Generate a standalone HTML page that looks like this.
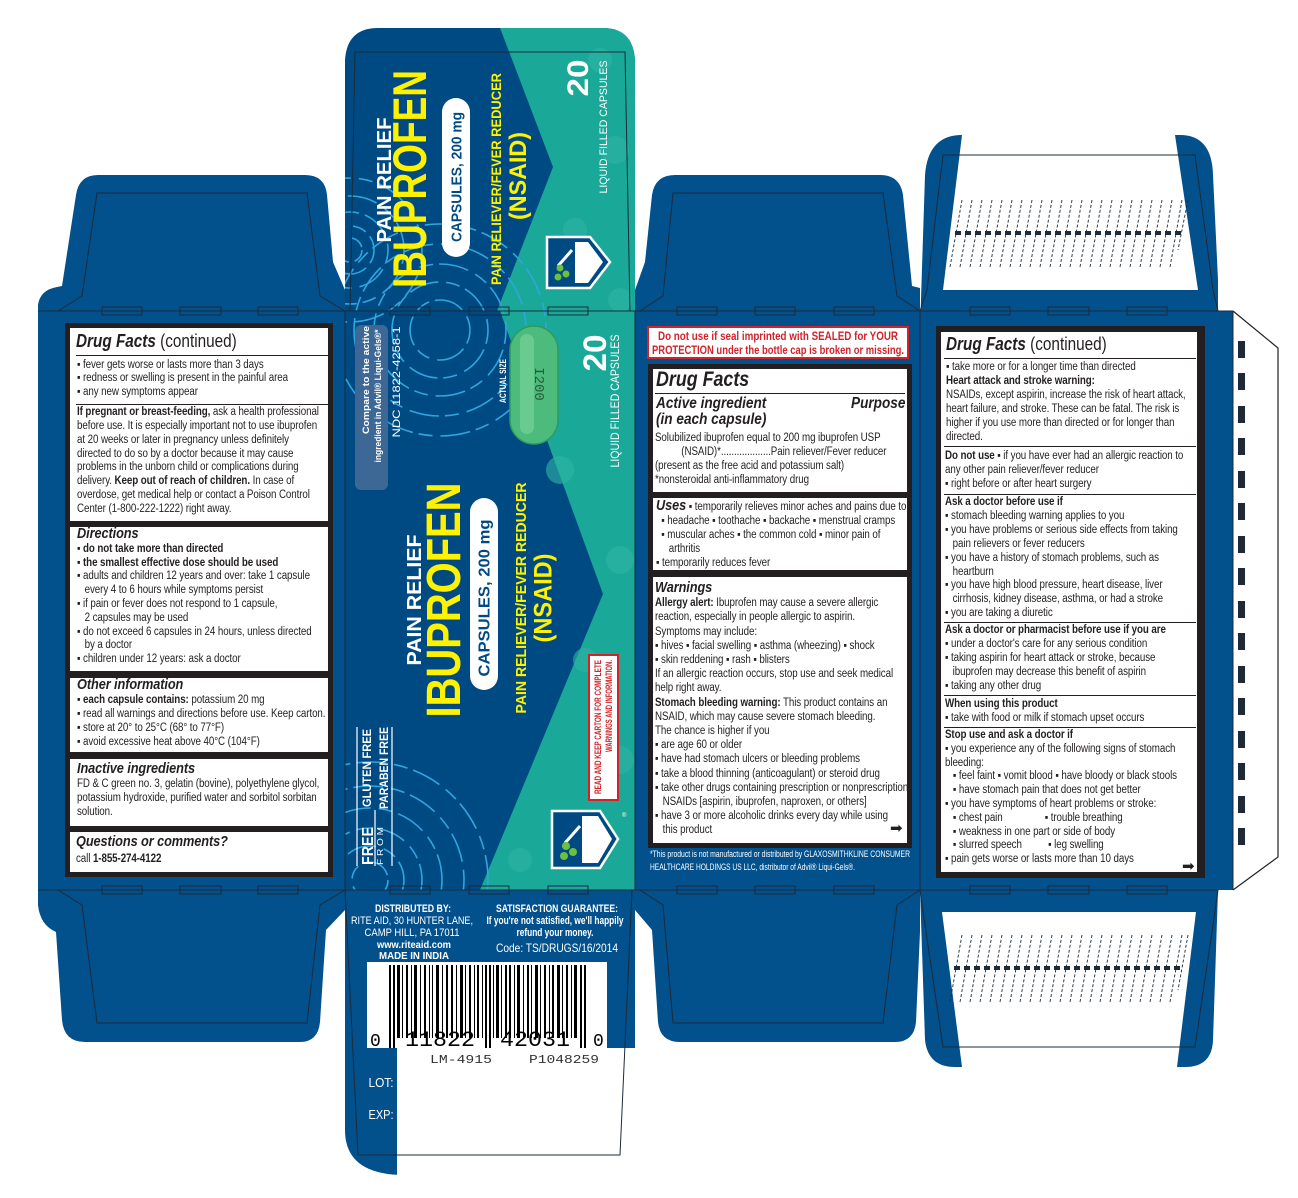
<!DOCTYPE html>
<html><head><meta charset="utf-8"><style>
*{margin:0;padding:0;box-sizing:border-box}
body{width:1298px;height:1198px;background:#fff;position:relative;overflow:hidden;font-family:"Liberation Sans Narrow","Liberation Sans",sans-serif;color:#231f20}
svg{position:absolute;left:0;top:0}
.a{position:absolute;white-space:nowrap;transform:scaleX(0.85);transform-origin:0 0}
.blk{position:absolute;background:#231f20}
.wh{position:absolute;background:#fff}
.t{font-size:11.5px;line-height:13.6px;letter-spacing:-0.1px}
.hr{position:absolute;height:1px;background:#231f20}
.h{font-weight:bold;font-style:italic;font-size:15px}
b{font-weight:bold}
.ind{padding-left:9px}
</style></head><body>
<svg width="1298" height="1198" viewBox="0 0 1298 1198">
<defs>
<clipPath id="cf"><path d="M345,311 L345,60 Q347,28 378,28 L603,28 Q633,28 635,60 L635,890 L345,890 Z"/></clipPath>
</defs>
<g fill="#02508c">
<path d="M38,330 L38,305 Q40,290 57,287 L62,286 L76,195 Q79,175 98,175 L305,175 Q325,175 327,195 L333,262 L345,290 L345,330 Z"/>
<rect x="38" y="311" width="307" height="579"/>
<path d="M38,890 L38,905 Q40,925 56,932 L62,1020 Q64,1042 85,1042 L300,1042 Q318,1042 320,1022 L326,930 L345,910 L345,890 Z"/>
<path d="M635,330 L635,290 L645,262 L652,195 Q655,175 675,175 L880,175 Q900,175 903,195 L912,286 L920,288 L920,330 Z"/>
<rect x="635" y="311" width="285" height="579"/>
<path d="M635,890 L635,910 L652,930 L658,1022 Q660,1042 680,1042 L895,1042 Q914,1042 916,1022 L920,932 L920,890 Z"/>
<path d="M920,330 L925,175 Q928,135 962,135 L1180,135 Q1212,135 1213,175 L1218,280 L1218,330 Z"/>
<rect x="920" y="311" width="313" height="579"/>
<path d="M920,890 L925,1040 Q928,1067 955,1067 L1185,1067 Q1212,1067 1213,1040 L1218,890 Z"/>
<path d="M345,890 L635,890 L635,1048 L632,1048 L632,1175 L405,1175 Q345,1175 345,1130 Z"/>
</g>
<path d="M962,135 L1175,135 L1198,290 L943,290 Z" fill="#fff"/>
<path d="M942,912 L1196,912 L1177,1067 L962,1067 Z" fill="#fff"/>
<path d="M1233,311 L1278,348 L1278,857 L1233,890" fill="#fff" stroke="#231f20" stroke-width="1.2"/>
<g fill="#1e2a38">
<rect x="1238" y="341" width="7" height="17"/><rect x="1238" y="373" width="7" height="17"/><rect x="1238" y="406" width="7" height="17"/><rect x="1238" y="438" width="7" height="17"/><rect x="1238" y="471" width="7" height="17"/><rect x="1238" y="503" width="7" height="17"/><rect x="1238" y="536" width="7" height="17"/><rect x="1238" y="568" width="7" height="17"/><rect x="1238" y="601" width="7" height="17"/><rect x="1238" y="633" width="7" height="17"/><rect x="1238" y="666" width="7" height="17"/><rect x="1238" y="698" width="7" height="17"/><rect x="1238" y="731" width="7" height="17"/><rect x="1238" y="763" width="7" height="17"/><rect x="1238" y="796" width="7" height="17"/><rect x="1238" y="828" width="7" height="17"/>
</g>
<rect x="397" y="1048" width="245" height="127" fill="#fff"/>
<rect x="367" y="962" width="240" height="86" fill="#fff"/>
<g clip-path="url(#cf)">
<rect x="345" y="20" width="290" height="870" fill="#004a84"/>
<path d="M497,20 L640,20 L640,311 L497,311 L553,167 Z" fill="#1aa898"/>
<path d="M500,311 L640,311 L640,890 L480,890 L603,594 Z" fill="#1aa898"/>
<g fill="none" stroke="#2fa6dd" stroke-width="1.6" stroke-dasharray="14 6 30 8">
<circle cx="350" cy="250" r="12"/><circle cx="350" cy="250" r="24"/><circle cx="350" cy="250" r="38"/><circle cx="350" cy="250" r="54"/><circle cx="350" cy="250" r="72"/>
<circle cx="440" cy="330" r="30"/><circle cx="440" cy="330" r="48"/><circle cx="440" cy="330" r="66"/><circle cx="440" cy="330" r="86"/><circle cx="440" cy="330" r="106"/>
<circle cx="370" cy="880" r="18"/><circle cx="370" cy="880" r="34"/><circle cx="370" cy="880" r="52"/><circle cx="370" cy="880" r="72"/><circle cx="370" cy="880" r="94"/><circle cx="370" cy="880" r="118"/>
</g>
<g fill="#2fb5a4" opacity="0.6">
<circle cx="600" cy="60" r="12"/><circle cx="615" cy="150" r="14"/><circle cx="575" cy="230" r="12"/><circle cx="620" cy="300" r="12"/><circle cx="560" cy="470" r="14"/><circle cx="620" cy="560" r="14"/><circle cx="585" cy="660" r="12"/><circle cx="620" cy="760" r="14"/><circle cx="520" cy="860" r="12"/>
</g>
</g>
<g fill="none" stroke="#1d2b3a" stroke-width="1">
<path d="M38,311 L1233,311 M38,890 L1218,890"/>
<path d="M345,311 L345,890 M635,311 L635,890 M920,311 L920,890 M1233,311 L1233,890"/>
<path d="M58,311 L82,296 L97,193 L307,193 L320,296 L345,311"/>
<path d="M640,311 L663,296 L673,193 L883,193 L897,296 L920,311"/>
<path d="M920,311 L927,290 L943,155 L1195,155 L1213,290 L1218,311"/>
<path d="M350,311 L355,52 L625,52 L630,311"/>
<path d="M58,890 L82,905 L97,1023 L307,1023 L320,905 L345,890"/>
<path d="M640,890 L663,905 L673,1023 L883,1023 L897,905 L920,890"/>
<path d="M920,890 L925,925 L943,1047 L1195,1047 L1213,925 L1218,890"/>
<path d="M345,890 L358,1155 L620,1155 L632,890"/>
</g>
<g fill="none" stroke="#1d2b3a" stroke-width="1">
<rect x="102" y="307" width="40" height="8"/><rect x="180" y="307" width="41" height="8"/><rect x="258" y="307" width="40" height="8"/>
<rect x="390" y="307" width="40" height="8"/><rect x="469" y="307" width="40" height="8"/><rect x="548" y="307" width="40" height="8"/>
<rect x="677" y="307" width="40" height="8"/><rect x="755" y="307" width="40" height="8"/><rect x="834" y="307" width="40" height="8"/>
<rect x="970" y="307" width="40" height="8"/><rect x="1048" y="307" width="41" height="8"/><rect x="1127" y="307" width="40" height="8"/>
<rect x="102" y="886" width="40" height="8"/><rect x="180" y="886" width="41" height="8"/><rect x="258" y="886" width="40" height="8"/>
<rect x="390" y="886" width="40" height="8"/><rect x="469" y="886" width="40" height="8"/><rect x="548" y="886" width="40" height="8"/>
<rect x="677" y="886" width="40" height="8"/><rect x="755" y="886" width="40" height="8"/><rect x="834" y="886" width="40" height="8"/>
<rect x="970" y="886" width="40" height="8"/><rect x="1048" y="886" width="41" height="8"/><rect x="1127" y="886" width="40" height="8"/>
</g>
<g stroke="#1d2b3a" stroke-width="0.9" stroke-dasharray="3 2">
<path d="M962,200 L950,267 M972,200 L960,267 M982,200 L970,267 M992,200 L980,267 M1002,200 L990,267 M1012,200 L1000,267 M1022,200 L1010,267 M1032,200 L1020,267 M1042,200 L1030,267 M1052,200 L1040,267 M1062,200 L1050,267 M1072,200 L1060,267 M1082,200 L1070,267 M1092,200 L1080,267 M1102,200 L1090,267 M1112,200 L1100,267 M1122,200 L1110,267 M1132,200 L1120,267 M1142,200 L1130,267 M1152,200 L1140,267 M1162,200 L1150,267 M1172,200 L1160,267 M1182,200 L1170,267 M1188,200 L1178,250"/>
<path d="M962,935 L950,1002 M972,935 L960,1002 M982,935 L970,1002 M992,935 L980,1002 M1002,935 L990,1002 M1012,935 L1000,1002 M1022,935 L1010,1002 M1032,935 L1020,1002 M1042,935 L1030,1002 M1052,935 L1040,1002 M1062,935 L1050,1002 M1072,935 L1060,1002 M1082,935 L1070,1002 M1092,935 L1080,1002 M1102,935 L1090,1002 M1112,935 L1100,1002 M1122,935 L1110,1002 M1132,935 L1120,1002 M1142,935 L1130,1002 M1152,935 L1140,1002 M1162,935 L1150,1002 M1172,935 L1160,1002 M1182,935 L1170,1002 M1188,935 L1178,990"/>
</g>
<path d="M955,233 L1185,233 M954,968 L1184,968" stroke="#1d2b3a" stroke-width="4" stroke-dasharray="6 4"/>

<g font-family="Liberation Sans, sans-serif" font-weight="bold" text-anchor="middle">
<text transform="translate(384,180) rotate(-90)" y="7" font-size="20" fill="#fff" textLength="125" lengthAdjust="spacingAndGlyphs">PAIN RELIEF</text>
<text transform="translate(409,179) rotate(-90)" y="17" font-size="47" fill="#fff200" textLength="218" lengthAdjust="spacingAndGlyphs">IBUPROFEN</text>
<rect x="442" y="98" width="28" height="159" rx="14" fill="#fff"/>
<text transform="translate(456,177) rotate(-90)" y="5.5" font-size="15" fill="#004a84" textLength="130" lengthAdjust="spacingAndGlyphs">CAPSULES, 200 mg</text>
<text transform="translate(496,179) rotate(-90)" y="5" font-size="14" fill="#fff200" textLength="212" lengthAdjust="spacingAndGlyphs">PAIN RELIEVER/FEVER REDUCER</text>
<text transform="translate(518,176) rotate(-90)" y="8" font-size="24" fill="#fff200" textLength="88" lengthAdjust="spacingAndGlyphs">(NSAID)</text>
<text transform="translate(578,78) rotate(-90)" y="10" font-size="30" fill="#fff" textLength="37" lengthAdjust="spacingAndGlyphs">20</text>
<text transform="translate(603,127) rotate(-90)" y="4" font-size="11" font-weight="normal" fill="#fff" textLength="133" lengthAdjust="spacingAndGlyphs">LIQUID FILLED CAPSULES</text>
</g>
<path d="M547,237 L590,237 L610,262 L590,288 L547,288 Z" fill="#004a84" stroke="#fff" stroke-width="2.5"/>
<path d="M575,242 L588,242 L603,262 L588,283 L575,283 Z" fill="#fff"/>
<path d="M558,266 L572,250" stroke="#fff" stroke-width="3"/>
<g fill="#6cbf3f"><circle cx="560" cy="268" r="3.5"/><circle cx="566" cy="274" r="3.5"/><circle cx="558" cy="277" r="3.5"/></g>

<rect x="355" y="325" width="33" height="165" rx="6" fill="#3d6896"/>
<g font-family="Liberation Sans, sans-serif" text-anchor="middle">
<text transform="translate(366,380) rotate(-90)" y="3" font-size="9" font-weight="bold" fill="#fff" textLength="108" lengthAdjust="spacingAndGlyphs">Compare to the active</text>
<text transform="translate(378,396) rotate(-90)" y="3" font-size="9" font-weight="bold" fill="#fff" textLength="133" lengthAdjust="spacingAndGlyphs">ingredient in Advil® Liqui-Gels®*</text>
<text transform="translate(396,382) rotate(-90)" y="4" font-size="11" fill="#fff" textLength="111" lengthAdjust="spacingAndGlyphs">NDC 11822-4258-1</text>
<text transform="translate(503,381) rotate(-90)" y="3" font-size="9" font-weight="bold" fill="#fff" textLength="44" lengthAdjust="spacingAndGlyphs">ACTUAL SIZE</text>
<text transform="translate(595,353) rotate(-90)" y="11" font-size="32" font-weight="bold" fill="#fff" textLength="37" lengthAdjust="spacingAndGlyphs">20</text>
<text transform="translate(615,401) rotate(-90)" y="4" font-size="12" fill="#fff" textLength="133" lengthAdjust="spacingAndGlyphs">LIQUID FILLED CAPSULES</text>
<text transform="translate(414,600) rotate(-90)" y="7" font-size="20" font-weight="bold" fill="#fff" textLength="131" lengthAdjust="spacingAndGlyphs">PAIN RELIEF</text>
<text transform="translate(443,600) rotate(-90)" y="17" font-size="48" font-weight="bold" fill="#fff200" textLength="235" lengthAdjust="spacingAndGlyphs">IBUPROFEN</text>
</g>
<rect x="510" y="326" width="48" height="118" rx="24" fill="#4dbb7c" stroke="#2e9a5e" stroke-width="1.5"/>
<rect x="520" y="334" width="14" height="100" rx="7" fill="#7fd59e" opacity="0.6"/>
<text transform="translate(540,384) rotate(90)" y="5" font-family="Liberation Mono, monospace" font-size="14" fill="#2b5a3c" text-anchor="middle">I200</text>
<rect x="470" y="498" width="28" height="192" rx="14" fill="#fff"/>
<g font-family="Liberation Sans, sans-serif" font-weight="bold" text-anchor="middle">
<text transform="translate(484,598) rotate(-90)" y="5.5" font-size="16" fill="#004a84" textLength="157" lengthAdjust="spacingAndGlyphs">CAPSULES, 200 mg</text>
<text transform="translate(521,598) rotate(-90)" y="5" font-size="15" fill="#fff200" textLength="231" lengthAdjust="spacingAndGlyphs">PAIN RELIEVER/FEVER REDUCER</text>
<text transform="translate(543,598) rotate(-90)" y="8.5" font-size="25" fill="#fff200" textLength="89" lengthAdjust="spacingAndGlyphs">(NSAID)</text>
</g>
<rect x="589" y="655" width="29" height="145" fill="#fff" stroke="#d2232a" stroke-width="2"/>
<g font-family="Liberation Sans, sans-serif" font-weight="bold" fill="#d2232a" text-anchor="middle">
<text transform="translate(598,727) rotate(-90)" y="3" font-size="9" textLength="134" lengthAdjust="spacingAndGlyphs">READ AND KEEP CARTON FOR COMPLETE</text>
<text transform="translate(609,706) rotate(-90)" y="3" font-size="9" textLength="92" lengthAdjust="spacingAndGlyphs">WARNINGS AND INFORMATION.</text>
</g>
<g font-family="Liberation Sans, sans-serif" font-weight="bold" fill="#fff" text-anchor="middle">
<path d="M357,866 L357,727 M375,866 L375,810 M392,866 L392,727" stroke="#fff" stroke-width="1.2"/>
<text transform="translate(367,846) rotate(-90)" y="6" font-size="16" textLength="38" lengthAdjust="spacingAndGlyphs">FREE</text>
<text transform="translate(380,846) rotate(-90)" y="3" font-size="8" font-weight="normal" textLength="38" lengthAdjust="spacingAndGlyphs">F R O M</text>
<text transform="translate(367,768) rotate(-90)" y="4" font-size="12" textLength="78" lengthAdjust="spacingAndGlyphs">GLUTEN FREE</text>
<text transform="translate(384,768) rotate(-90)" y="4" font-size="12" textLength="82" lengthAdjust="spacingAndGlyphs">PARABEN FREE</text>
</g>
<path d="M552,811 L600,811 L618,839 L600,868 L552,868 Z" fill="#004a84" stroke="#fff" stroke-width="2.5"/>
<path d="M582,816 L598,816 L612,839 L598,863 L582,863 Z" fill="#fff"/>
<path d="M565,843 L580,826" stroke="#fff" stroke-width="3"/>
<g fill="#6cbf3f"><circle cx="566" cy="846" r="4"/><circle cx="573" cy="852" r="4"/><circle cx="564" cy="856" r="4"/></g>
<text x="622" y="817" font-size="6" fill="#fff" font-family="Liberation Sans">®</text>

<g fill="#000">
<rect x="389" y="965" width="2" height="83"/><rect x="393" y="965" width="2" height="83"/>
<rect x="397" y="965" width="3" height="73"/><rect x="402" y="965" width="1" height="73"/><rect x="406" y="965" width="2" height="73"/><rect x="411" y="965" width="1" height="73"/><rect x="414" y="965" width="3" height="73"/><rect x="420" y="965" width="1" height="73"/><rect x="424" y="965" width="2" height="73"/><rect x="429" y="965" width="1" height="73"/><rect x="432" y="965" width="1" height="73"/><rect x="436" y="965" width="3" height="73"/><rect x="442" y="965" width="1" height="73"/><rect x="446" y="965" width="2" height="73"/><rect x="451" y="965" width="2" height="73"/><rect x="456" y="965" width="1" height="73"/><rect x="460" y="965" width="3" height="73"/><rect x="465" y="965" width="1" height="73"/><rect x="469" y="965" width="2" height="73"/><rect x="474" y="965" width="1" height="73"/><rect x="477" y="965" width="2" height="73"/><rect x="482" y="965" width="1" height="73"/>
<rect x="485" y="965" width="2" height="83"/><rect x="489" y="965" width="2" height="83"/>
<rect x="493" y="965" width="1" height="73"/><rect x="496" y="965" width="3" height="73"/><rect x="501" y="965" width="1" height="73"/><rect x="505" y="965" width="2" height="73"/><rect x="509" y="965" width="2" height="73"/><rect x="514" y="965" width="1" height="73"/><rect x="517" y="965" width="3" height="73"/><rect x="523" y="965" width="1" height="73"/><rect x="527" y="965" width="2" height="73"/><rect x="531" y="965" width="1" height="73"/><rect x="535" y="965" width="3" height="73"/><rect x="540" y="965" width="1" height="73"/><rect x="544" y="965" width="2" height="73"/><rect x="549" y="965" width="1" height="73"/><rect x="552" y="965" width="2" height="73"/><rect x="557" y="965" width="3" height="73"/><rect x="562" y="965" width="1" height="73"/><rect x="566" y="965" width="2" height="73"/><rect x="571" y="965" width="1" height="73"/><rect x="574" y="965" width="3" height="73"/>
<rect x="580" y="965" width="2" height="83"/><rect x="584" y="965" width="2" height="83"/>
</g>
<rect x="397" y="1038" width="87" height="10" fill="#fff"/><rect x="493" y="1038" width="85" height="10" fill="#fff"/>
<g font-family="Liberation Mono, monospace" fill="#000">
<text x="370" y="1046" font-size="18">0</text>
<text x="440" y="1046" font-size="22" text-anchor="middle" textLength="70" lengthAdjust="spacingAndGlyphs">11822</text>
<text x="535" y="1046" font-size="22" text-anchor="middle" textLength="70" lengthAdjust="spacingAndGlyphs">42031</text>
<text x="593" y="1046" font-size="18">0</text>
<text x="430" y="1063" font-size="12" fill="#333" textLength="62" lengthAdjust="spacingAndGlyphs">LM-4915</text>
<text x="529" y="1063" font-size="12" fill="#333" textLength="70" lengthAdjust="spacingAndGlyphs">P1048259</text>
</g>
<g font-family="Liberation Sans, sans-serif" fill="#fff" text-anchor="middle">
<text x="413" y="912" font-size="11" font-weight="bold" textLength="76" lengthAdjust="spacingAndGlyphs">DISTRIBUTED BY:</text>
<text x="412" y="924" font-size="11" textLength="122" lengthAdjust="spacingAndGlyphs">RITE AID, 30 HUNTER LANE,</text>
<text x="412" y="936" font-size="11" textLength="95" lengthAdjust="spacingAndGlyphs">CAMP HILL, PA 17011</text>
<text x="414" y="948" font-size="10" font-weight="bold" textLength="74" lengthAdjust="spacingAndGlyphs">www.riteaid.com</text>
<text x="414" y="959" font-size="10" font-weight="bold" textLength="70" lengthAdjust="spacingAndGlyphs">MADE IN INDIA</text>
<text x="557" y="912" font-size="11" font-weight="bold" textLength="122" lengthAdjust="spacingAndGlyphs">SATISFACTION GUARANTEE:</text>
<text x="555" y="924" font-size="11" font-weight="bold" textLength="137" lengthAdjust="spacingAndGlyphs">If you're not satisfied, we'll happily</text>
<text x="555" y="936" font-size="11" font-weight="bold" textLength="77" lengthAdjust="spacingAndGlyphs">refund your money.</text>
<text x="557" y="952" font-size="12" textLength="122" lengthAdjust="spacingAndGlyphs">Code: TS/DRUGS/16/2014</text>
<text x="381" y="1087" font-size="13" textLength="25" lengthAdjust="spacingAndGlyphs">LOT:</text>
<text x="381" y="1119" font-size="13" textLength="25" lengthAdjust="spacingAndGlyphs">EXP:</text>
</g>
<g font-family="Liberation Sans, sans-serif" fill="#fff" font-size="9.5">
<text x="650" y="857" textLength="260" lengthAdjust="spacingAndGlyphs">*This product is not manufactured or distributed by GLAXOSMITHKLINE CONSUMER</text>
<text x="650" y="870" textLength="205" lengthAdjust="spacingAndGlyphs">HEALTHCARE HOLDINGS US LLC, distributor of Advil® Liqui-Gels®.</text>
</g>
<rect x="648" y="327" width="260" height="31" fill="#fff" stroke="#d2232a" stroke-width="2"/>
<g font-family="Liberation Sans, sans-serif" font-weight="bold" fill="#d2232a" font-size="12" text-anchor="middle">
<text x="778" y="340" textLength="240" lengthAdjust="spacingAndGlyphs">Do not use if seal imprinted with SEALED for YOUR</text>
<text x="778" y="354" textLength="252" lengthAdjust="spacingAndGlyphs">PROTECTION under the bottle cap is broken or missing.</text>
</g>
</svg>

<div class="blk" style="left:65px;top:323px;width:268px;height:554px"></div>
<div class="wh" style="left:70px;top:328px;width:258px;height:193px"></div>
<div class="wh" style="left:70px;top:527px;width:258px;height:144px"></div>
<div class="wh" style="left:70px;top:678px;width:258px;height:74px"></div>
<div class="wh" style="left:70px;top:759px;width:258px;height:67px"></div>
<div class="wh" style="left:70px;top:832px;width:258px;height:40px"></div>
<div class="a" style="left:76px;top:331px;font-size:18px;line-height:20px"><b><i>Drug Facts</i></b> (continued)</div>
<div class="hr" style="left:76px;top:355px;width:252px"></div>
<div class="a t" style="left:77px;top:359px;line-height:13.3px">▪ fever gets worse or lasts more than 3 days<br>▪ redness or swelling is present in the painful area<br>▪ any new symptoms appear</div>
<div class="hr" style="left:76px;top:404px;width:252px"></div>
<div class="a t" style="left:77px;top:406px;line-height:13.85px"><b>If pregnant or breast-feeding,</b> ask a health professional<br>before use. It is especially important not to use ibuprofen<br>at 20 weeks or later in pregnancy unless definitely<br>directed to do so by a doctor because it may cause<br>problems in the unborn child or complications during<br>delivery. <b>Keep out of reach of children.</b> In case of<br>overdose, get medical help or contact a Poison Control<br>Center (1-800-222-1222) right away.</div>
<div class="a t" style="left:77px;top:527px;line-height:13.8px"><span class="h">Directions</span><br><b>▪ do not take more than directed</b><br><b>▪ the smallest effective dose should be used</b><br>▪ adults and children 12 years and over: take 1 capsule<br><span class="ind">every 4 to 6 hours while symptoms persist</span><br>▪ if pain or fever does not respond to 1 capsule,<br><span class="ind">2 capsules may be used</span><br>▪ do not exceed 6 capsules in 24 hours, unless directed<br><span class="ind">by a doctor</span><br>▪ children under 12 years: ask a doctor</div>
<div class="a t" style="left:77px;top:678px;line-height:13.9px"><span class="h">Other information</span><br>▪ <b>each capsule contains:</b> potassium 20 mg<br>▪ read all warnings and directions before use. Keep carton.<br>▪ store at 20° to 25°C (68° to 77°F)<br>▪ avoid excessive heat above 40°C (104°F)</div>
<div class="a t" style="left:77px;top:762px;line-height:14px"><span class="h">Inactive ingredients</span><br>FD &amp; C green no. 3, gelatin (bovine), polyethylene glycol,<br>potassium hydroxide, purified water and sorbitol sorbitan<br>solution.</div>
<div class="a t" style="left:76px;top:834px;line-height:16px"><span class="h">Questions or comments?</span><br>call <b>1-855-274-4122</b></div>

<div class="blk" style="left:648px;top:364px;width:264px;height:484px"></div>
<div class="wh" style="left:653px;top:369px;width:254px;height:123px"></div>
<div class="wh" style="left:653px;top:498px;width:254px;height:72px"></div>
<div class="wh" style="left:653px;top:577px;width:254px;height:266px"></div>
<div class="a" style="left:656px;top:369px;font-size:21px;line-height:22px;font-weight:bold;font-style:italic">Drug Facts</div>
<div class="hr" style="left:655px;top:393px;width:250px"></div>
<div class="a" style="left:656px;top:396px;font-size:16px;line-height:16px;font-weight:bold;font-style:italic">Active ingredient<br>(in each capsule)</div>
<div class="a" style="left:851px;top:396px;font-size:16px;line-height:16px;font-weight:bold;font-style:italic">Purpose</div>
<div class="a t" style="left:655px;top:431px;line-height:14px">Solubilized ibuprofen equal to 200 mg ibuprofen USP<br>&nbsp;&nbsp;&nbsp;&nbsp;&nbsp;&nbsp;&nbsp;&nbsp;&nbsp;&nbsp;(NSAID)*...................Pain reliever/Fever reducer<br>(present as the free acid and potassium salt)<br>*nonsteroidal anti-inflammatory drug</div>
<div class="a t" style="left:656px;top:499px;line-height:14px"><span class="h">Uses</span> ▪ temporarily relieves minor aches and pains due to:<br>&nbsp;&nbsp;▪ headache ▪ toothache ▪ backache ▪ menstrual cramps<br>&nbsp;&nbsp;▪ muscular aches ▪ the common cold ▪ minor pain of<br><span style="padding-left:15px">arthritis</span><br>▪ temporarily reduces fever</div>
<div class="a t" style="left:655px;top:581px;line-height:14.2px"><span class="h">Warnings</span><br><b>Allergy alert:</b> Ibuprofen may cause a severe allergic<br>reaction, especially in people allergic to aspirin.<br>Symptoms may include:<br>▪ hives ▪ facial swelling ▪ asthma (wheezing) ▪ shock<br>▪ skin reddening ▪ rash ▪ blisters<br>If an allergic reaction occurs, stop use and seek medical<br>help right away.<br><b>Stomach bleeding warning:</b> This product contains an<br>NSAID, which may cause severe stomach bleeding.<br>The chance is higher if you<br>▪ are age 60 or older<br>▪ have had stomach ulcers or bleeding problems<br>▪ take a blood thinning (anticoagulant) or steroid drug<br>▪ take other drugs containing prescription or nonprescription<br><span class="ind">NSAIDs [aspirin, ibuprofen, naproxen, or others]</span><br>▪ have 3 or more alcoholic drinks every day while using<br><span class="ind">this product</span></div>
<div class="a" style="left:890px;top:822px;font-size:15px;line-height:14px;transform:none">➡</div>

<div class="blk" style="left:936px;top:326px;width:269px;height:552px"></div>
<div class="wh" style="left:941px;top:332px;width:256px;height:540px"></div>
<div class="a" style="left:946px;top:334px;font-size:18px;line-height:20px"><b><i>Drug Facts</i></b> (continued)</div>
<div class="hr" style="left:944px;top:358px;width:252px"></div>
<div class="a t" style="left:946px;top:360px;line-height:14px">▪ take more or for a longer time than directed<br><b>Heart attack and stroke warning:</b><br>NSAIDs, except aspirin, increase the risk of heart attack,<br>heart failure, and stroke. These can be fatal. The risk is<br>higher if you use more than directed or for longer than<br>directed.</div>
<div class="hr" style="left:944px;top:446px;width:252px"></div>
<div class="a t" style="left:945px;top:449px;line-height:14px"><b>Do not use</b> ▪ if you have ever had an allergic reaction to<br>any other pain reliever/fever reducer<br>▪ right before or after heart surgery</div>
<div class="hr" style="left:944px;top:494px;width:252px"></div>
<div class="a t" style="left:945px;top:496px;line-height:13.9px"><b>Ask a doctor before use if</b><br>▪ stomach bleeding warning applies to you<br>▪ you have problems or serious side effects from taking<br><span class="ind">pain relievers or fever reducers</span><br>▪ you have a history of stomach problems, such as<br><span class="ind">heartburn</span><br>▪ you have high blood pressure, heart disease, liver<br><span class="ind">cirrhosis, kidney disease, asthma, or had a stroke</span><br>▪ you are taking a diuretic</div>
<div class="hr" style="left:944px;top:622px;width:252px"></div>
<div class="a t" style="left:945px;top:623px;line-height:14px"><b>Ask a doctor or pharmacist before use if you are</b><br>▪ under a doctor's care for any serious condition<br>▪ taking aspirin for heart attack or stroke, because<br><span class="ind">ibuprofen may decrease this benefit of aspirin</span><br>▪ taking any other drug</div>
<div class="hr" style="left:944px;top:695px;width:252px"></div>
<div class="a t" style="left:945px;top:697px;line-height:14px"><b>When using this product</b><br>▪ take with food or milk if stomach upset occurs</div>
<div class="hr" style="left:944px;top:727px;width:252px"></div>
<div class="a t" style="left:945px;top:729px;line-height:13.8px"><b>Stop use and ask a doctor if</b><br>▪ you experience any of the following signs of stomach<br>bleeding:<br>&nbsp;&nbsp;&nbsp;▪ feel faint ▪ vomit blood ▪ have bloody or black stools<br>&nbsp;&nbsp;&nbsp;▪ have stomach pain that does not get better<br>▪ you have symptoms of heart problems or stroke:<br>&nbsp;&nbsp;&nbsp;▪ chest pain&nbsp;&nbsp;&nbsp;&nbsp;&nbsp;&nbsp;&nbsp;&nbsp;&nbsp;&nbsp;&nbsp;&nbsp;&nbsp;&nbsp;&nbsp;&nbsp;▪ trouble breathing<br>&nbsp;&nbsp;&nbsp;▪ weakness in one part or side of body<br>&nbsp;&nbsp;&nbsp;▪ slurred speech&nbsp;&nbsp;&nbsp;&nbsp;&nbsp;&nbsp;&nbsp;&nbsp;&nbsp;&nbsp;▪ leg swelling<br>▪ pain gets worse or lasts more than 10 days</div>
<div class="a" style="left:1182px;top:860px;font-size:15px;line-height:14px;transform:none">➡</div>
</body></html>
